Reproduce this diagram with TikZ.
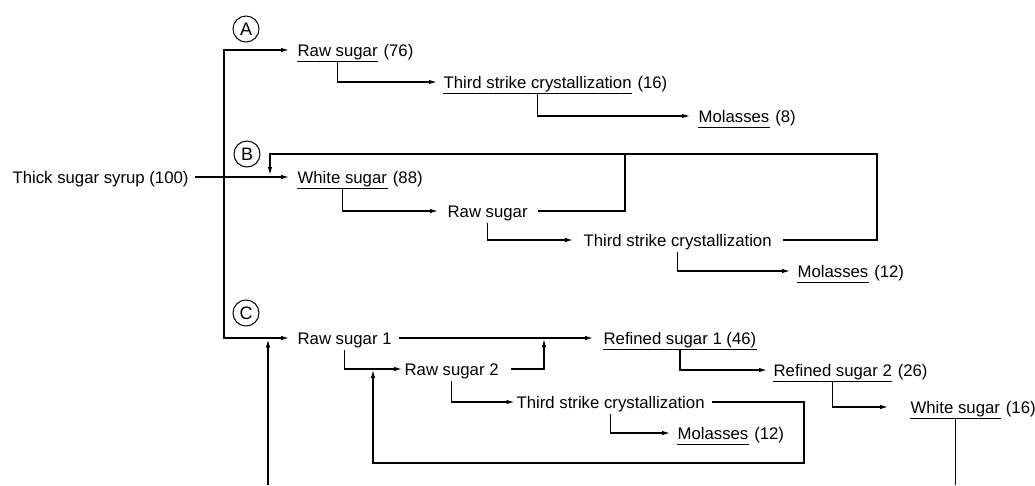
\documentclass[tikz,border=0pt]{standalone}
\usepackage{fontspec}
\setmainfont{Liberation Sans}
\usetikzlibrary{arrows.meta, positioning, calc}
\tikzset{
  every picture/.style={line width=1.2pt, font=\fontsize{16.75}{20}\selectfont},
  lbl/.style={inner sep=0pt, text height=17pt, text depth=5pt, anchor=west},
  tail/.style={inner sep=0pt, text height=17pt, text depth=5pt, anchor=base west},
  arrow/.style={-{Latex[length=8pt, width=4.5pt]}, shorten >=#1},
  arrow/.default=8pt,
  tag/.style={draw, circle, minimum size=26pt, inner sep=0pt, line width=1pt, font=\fontsize{18}{20}\selectfont},
}
\newcommand{\uline}[1]{\draw (#1.south west) -- (#1.south east);}

\begin{document}
\begin{tikzpicture}[x=1pt, y=-1pt]
  \useasboundingbox (0,0) rectangle (1035,485);
  % feed and trunk
  \node[lbl] (syrup) at (12,177) {Thick sugar syrup (100)};
  \coordinate (trunk) at (224,177);
  \coordinate (bin) at (270,177);
  \coordinate (feed) at (268,485);
  \coordinate (feedjoin) at (268,338);
  \node[tag] (tA) at (246,29) {A};
  \node[tag] (tB) at (247,154) {B};
  \node[tag] (tC) at (246,313) {C};
  % scheme A
  \node[lbl] (rs76) at (297,50) {Raw sugar};
  \node[tail] (rs76n) at ([xshift=4.7pt]rs76.base east) {(76)};
  \node[lbl] (ts16) at (443,82) {Third strike crystallization};
  \node[tail] (ts16n) at ([xshift=4.7pt]ts16.base east) {(16)};
  \node[lbl] (mol8) at (698,116) {Molasses};
  \node[tail] (mol8n) at ([xshift=4.7pt]mol8.base east) {(8)};
  \uline{rs76} \uline{ts16} \uline{mol8}
  \draw[arrow] (trunk) |- (rs76);
  \draw[arrow=6pt] (rs76.south) |- (ts16);
  \draw[arrow] (ts16.south) |- (mol8);
  % scheme B
  \node[lbl] (ws88) at (297,177) {White sugar};
  \node[tail] (ws88n) at ([xshift=4.7pt]ws88.base east) {(88)};
  \node[lbl] (rsB) at (447,211) {Raw sugar};
  \node[lbl] (tsB) at (583,240) {Third strike crystallization};
  \node[lbl] (mol12b) at (797,271) {Molasses};
  \node[tail] (mol12bn) at ([xshift=4.7pt]mol12b.base east) {(12)};
  \uline{ws88} \uline{mol12b}
  \coordinate (bmid) at (625,154);
  \coordinate (bloop) at (877,154);
  \draw[arrow] ([xshift=6pt]syrup.east) -- (ws88);
  \draw[arrow=9pt] (ws88.south) |- (rsB);
  \draw[arrow=10pt] (rsB.south) |- (tsB);
  \draw[arrow=7pt] (tsB.south) |- (mol12b);
  \draw ([xshift=10pt]rsB.east) -| (bmid);
  \draw[arrow=2pt] ([xshift=11pt]tsB.east) -| (bloop) -| (bin);
  % scheme C
  \node[lbl] (rs1) at (297,338) {Raw sugar 1};
  \node[lbl] (rf1) at (603,338) {Refined sugar 1 (46)};
  \node[lbl] (rs2) at (404,369) {Raw sugar 2};
  \node[lbl] (rf2) at (773,370) {Refined sugar 2};
  \node[tail] (rf2n) at ([xshift=4.7pt]rf2.base east) {(26)};
  \node[lbl] (tsC) at (516,402) {Third strike crystallization};
  \node[lbl] (ws16) at (910,407) {White sugar};
  \node[tail] (ws16n) at ([xshift=4.7pt]ws16.base east) {(16)};
  \node[lbl] (mol12c) at (677,433) {Molasses};
  \node[tail] (mol12cn) at ([xshift=4.7pt]mol12c.base east) {(12)};
  \uline{rf1} \uline{rf2} \uline{ws16} \uline{mol12c}
  \coordinate (j1) at (544,338);
  \coordinate (j2) at (373,369);
  \coordinate (cloop) at (804,463);
  \draw[arrow] (trunk) |- (rs1);
  \draw[arrow=1.5pt] (feed) -- (feedjoin);
  \draw[arrow=10pt] ([xshift=7pt]rs1.east) -- (rf1);
  \draw[arrow=2pt] (rs1.south) |- (rs2);
  \draw[arrow=1.5pt] (rs2.south) |- (tsC);
  \draw[arrow=7pt] (tsC.south) |- (mol12c);
  \draw[arrow=1pt] ([xshift=12pt]rs2.east) -| (j1);
  \draw[arrow=1pt] ([xshift=7pt]tsC.east) -| (cloop) -| (j2);
  \draw[arrow=6pt] (rf1.south) |- (rf2);
  \draw[arrow=22pt] (rf2.south) |- (ws16);
  \draw (ws16.south) -- (ws16.south |- feed);
\end{tikzpicture}
\end{document}
